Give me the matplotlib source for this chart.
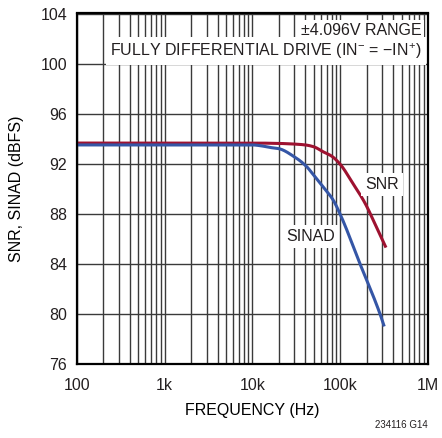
import numpy as np
import matplotlib.pyplot as plt
from matplotlib.ticker import FixedLocator, NullFormatter

# values
freq_snr = [100, 1000, 10000, 20000, 30000, 40000, 50000, 64000, 80000, 100000,
            140000, 183000, 200000, 260000, 332000]
snr = [93.65, 93.65, 93.65, 93.62, 93.57, 93.5, 93.35, 92.95, 92.6, 91.95,
       90.4, 89.1, 88.6, 86.9, 85.3]

freq_sinad = [100, 1000, 10000, 12000, 15800, 20000, 30000, 41000, 50000, 64000,
              83000, 100000, 168000, 284000, 317000]
sinad = [93.5, 93.5, 93.5, 93.45, 93.3, 93.2, 92.55, 91.8, 91.07, 90.15,
         89.1, 87.95, 84.0, 80.0, 79.0]

xticks = [1e2, 1e3, 1e4, 1e5, 1e6]
xticklabels = ["100", "1k", "10k", "100k", "1M"]
yticks = [76, 80, 84, 88, 92, 96, 100, 104]

red = "#9E1230"
blue = "#3556A6"
grid_c = "#3a3a3a"
txt_c = "#231f20"
fs = 11.5

plt.rcParams['font.family'] = ['Liberation Sans', 'DejaVu Sans']
plt.rcParams['mathtext.fontset'] = 'custom'
plt.rcParams['mathtext.rm'] = 'Liberation Sans'
plt.rcParams['mathtext.it'] = 'Liberation Sans'
plt.rcParams['text.color'] = txt_c


# monotone cubic through the read points (in log frequency)
def pchip(x, y, xs):
    x = np.asarray(x, float)
    y = np.asarray(y, float)
    h = np.diff(x)
    d = np.diff(y) / h
    m = np.zeros_like(y)
    for k in range(1, len(x) - 1):
        if d[k - 1] * d[k] > 0:
            w1 = 2 * h[k] + h[k - 1]
            w2 = h[k] + 2 * h[k - 1]
            m[k] = (w1 + w2) / (w1 / d[k - 1] + w2 / d[k])
    m[0] = d[0]
    m[-1] = d[-1]
    i = np.clip(np.searchsorted(x, xs) - 1, 0, len(x) - 2)
    t = (xs - x[i]) / h[i]
    h00 = 2 * t**3 - 3 * t**2 + 1
    h10 = t**3 - 2 * t**2 + t
    h01 = -2 * t**3 + 3 * t**2
    h11 = t**3 - t**2
    return h00 * y[i] + h10 * h[i] * m[i] + h01 * y[i + 1] + h11 * h[i] * m[i + 1]


def smooth(fx, fy):
    lx = np.log10(fx)
    xs = np.linspace(lx[0], lx[-1], 500)
    return 10 ** xs, pchip(lx, fy, xs)


fig = plt.figure(figsize=(4.42, 4.38), dpi=100)
ax = fig.add_axes([77 / 442, 1 - 364 / 438, 351 / 442, 350.5 / 438])

xs, ys = smooth(freq_snr, snr)
ax.plot(xs, ys, color=red, lw=2.2, solid_capstyle='butt', zorder=4)
xs, ys = smooth(freq_sinad, sinad)
ax.plot(xs, ys, color=blue, lw=2.2, solid_capstyle='butt', zorder=4)

ax.set_xscale('log')
ax.set_xlim(1e2, 1e6)
ax.set_ylim(76, 104)
ax.xaxis.set_major_locator(FixedLocator(xticks))
ax.set_xticklabels(xticklabels)
minors = [m * d for d in xticks[:-1] for m in range(2, 10)]
ax.xaxis.set_minor_locator(FixedLocator(minors))
ax.xaxis.set_minor_formatter(NullFormatter())
ax.set_yticks(yticks)

ax.grid(True, which='both', axis='x', color=grid_c, lw=1.0)
ax.grid(True, which='major', axis='y', color=grid_c, lw=1.0)
ax.tick_params(which='both', length=0, labelsize=fs, labelcolor=txt_c)
ax.tick_params(axis='y', pad=7)
ax.tick_params(axis='x', pad=10)
for s in ax.spines.values():
    s.set_linewidth(1.6)
    s.set_color('black')
    s.set_zorder(6)

ax.set_xlabel("FREQUENCY (Hz)", fontsize=fs, labelpad=7)
ax.set_ylabel("SNR, SINAD (dBFS)", fontsize=fs, labelpad=12)

ax.text(0.982, 0.952, "±4.096V RANGE", transform=ax.transAxes, ha='right', va='center',
        fontsize=fs, bbox=dict(facecolor='white', edgecolor='none', pad=2), zorder=5)
ax.text(0.982, 0.893, "FULLY DIFFERENTIAL DRIVE (IN$^{-}$ = \u2212IN$^{+}$)",
        transform=ax.transAxes, ha='right', va='center', fontsize=fs,
        bbox=dict(facecolor='white', edgecolor='none', pad=3), zorder=5)

ax.text(3.0e5, 90.35, "SNR", ha='center', va='center', fontsize=fs,
        bbox=dict(facecolor='white', edgecolor='none', pad=3), zorder=5)
ax.text(4.6e4, 86.2, "SINAD", ha='center', va='center', fontsize=fs,
        bbox=dict(facecolor='white', edgecolor='none', pad=3), zorder=5)

fig.text(428 / 442, 1 - 425 / 438, "234116 G14", ha='right', va='center', fontsize=7)

fig.savefig("out.png", dpi=100)
plt.close()
